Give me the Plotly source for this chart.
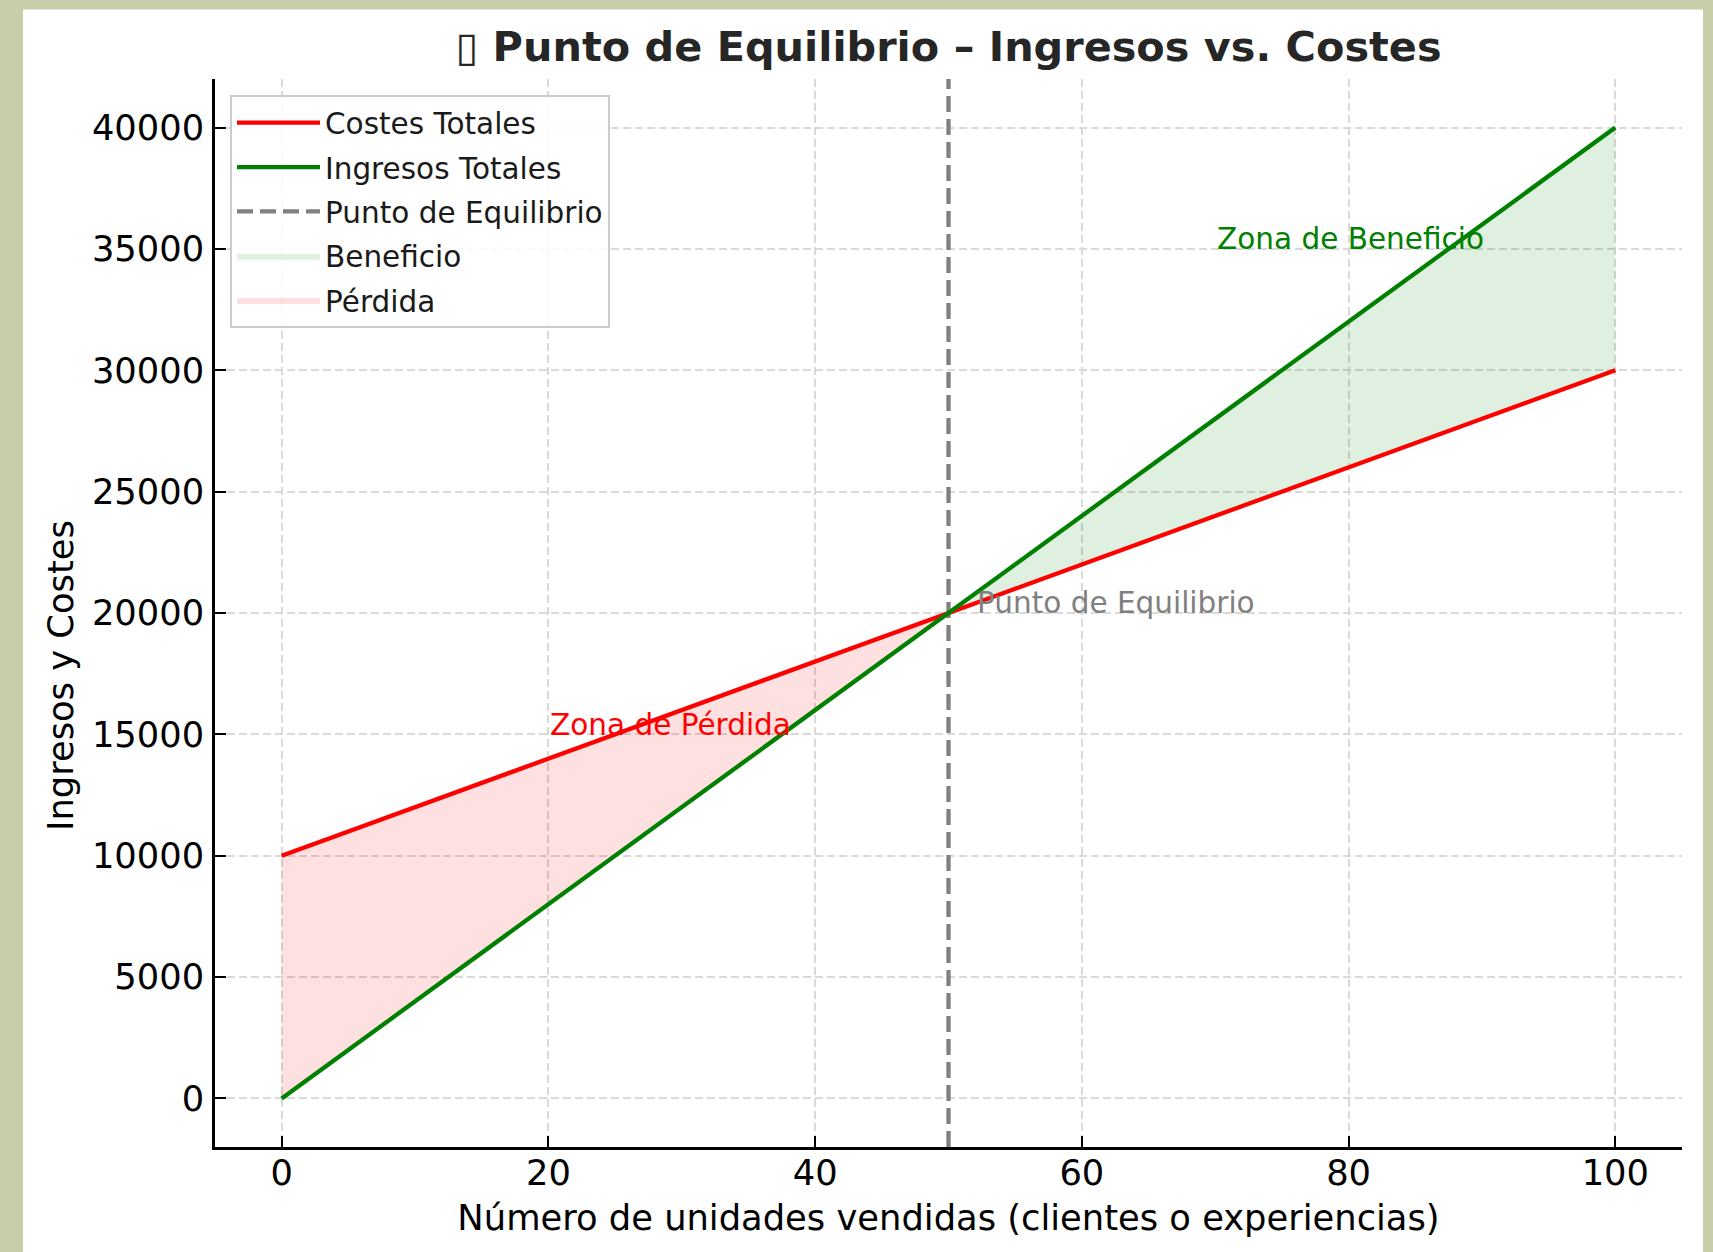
import plotly.graph_objects as go

# ---- data ----
units = [0, 50, 100]
costes_totales = [10000, 20000, 30000]
ingresos_totales = [0, 20000, 40000]
break_even_units = 50
x_ticks = [0, 20, 40, 60, 80, 100]
y_ticks = [0, 5000, 10000, 15000, 20000, 25000, 30000, 35000, 40000]
x_range = [-5, 105]
y_range = [-2000, 42000]

FONT = "DejaVu Sans"
W, H = 1713, 1252
L, R, T, B = 215, 31, 79, 105
BASE = 35.3
SMALL = 29.5

fig = go.Figure()

# loss zone (units <= break-even)
lx = [u for u in units if u <= break_even_units]
lc = [c for u, c in zip(units, costes_totales) if u <= break_even_units]
li = [v for u, v in zip(units, ingresos_totales) if u <= break_even_units]
fig.add_trace(go.Scatter(
    x=lx + lx[::-1], y=lc + li[::-1], fill="toself",
    fillcolor="rgba(255,0,0,0.12)", line=dict(width=0), mode="lines",
    name="Pérdida", legendrank=5, legendgroup="g5", hoverinfo="skip"))

# profit zone (units >= break-even)
px_ = [u for u in units if u >= break_even_units]
pc = [c for u, c in zip(units, costes_totales) if u >= break_even_units]
pi = [v for u, v in zip(units, ingresos_totales) if u >= break_even_units]
fig.add_trace(go.Scatter(
    x=px_ + px_[::-1], y=pi + pc[::-1], fill="toself",
    fillcolor="rgba(0,128,0,0.12)", line=dict(width=0), mode="lines",
    name="Beneficio", legendrank=4, legendgroup="g4", hoverinfo="skip"))

fig.add_trace(go.Scatter(
    x=[break_even_units, break_even_units], y=y_range, mode="lines",
    line=dict(color="#808080", width=4.3, dash="16px,7px"),
    name="Punto de Equilibrio", legendrank=3, legendgroup="g3"))

fig.add_trace(go.Scatter(
    x=units, y=costes_totales, mode="lines",
    line=dict(color="#ff0000", width=4.3),
    name="Costes Totales", legendrank=1, legendgroup="g1"))

fig.add_trace(go.Scatter(
    x=units, y=ingresos_totales, mode="lines",
    line=dict(color="#008000", width=4.3),
    name="Ingresos Totales", legendrank=2, legendgroup="g2"))

fig.add_annotation(x=break_even_units + 2, y=20400, text="Punto de Equilibrio",
                   showarrow=False, xanchor="left", yanchor="middle",
                   font=dict(family=FONT, size=SMALL, color="#808080"))
fig.add_annotation(x=70, y=35400, text="Zona de Beneficio",
                   showarrow=False, xanchor="left", yanchor="middle",
                   font=dict(family=FONT, size=SMALL, color="#008000"))
fig.add_annotation(x=20, y=15400, text="Zona de Pérdida",
                   showarrow=False, xanchor="left", yanchor="middle",
                   font=dict(family=FONT, size=SMALL, color="#ff0000"))

pw = W - L - R
ph = H - T - B

# y-axis title (placed as in the reference, slightly below the axis centre)
fig.add_annotation(xref="paper", yref="paper", x=(60 - L) / pw, y=1 - (676 - T) / ph,
                   text="Ingresos y Costes", textangle=-90, showarrow=False,
                   xanchor="center", yanchor="middle",
                   font=dict(family=FONT, size=BASE, color="black"))

fig.add_shape(type="rect", xref="paper", yref="paper", layer="below",
              x0=(23 - L) / pw, x1=(1703 - L) / pw,
              y0=-0.2, y1=1 + (T - 9.5) / ph,
              fillcolor="white", line=dict(width=0))

axis_common = dict(
    showline=True, linecolor="black", linewidth=2.5, mirror=False,
    ticks="inside", ticklen=11, tickwidth=2.3, tickcolor="black",
    showgrid=True, gridcolor="#d9d9d9", gridwidth=2, griddash="8px,4px",
    zeroline=False, tickfont=dict(family=FONT, size=BASE, color="black"),
)

fig.update_xaxes(range=x_range, tickvals=x_ticks, ticktext=[str(v) for v in x_ticks],
                 ticklabelstandoff=-7,
                 title=dict(text="Número de unidades vendidas (clientes o experiencias)",
                            font=dict(family=FONT, size=BASE, color="black"), standoff=14),
                 **axis_common)
fig.update_yaxes(range=y_range, tickvals=y_ticks, ticktext=[str(v) for v in y_ticks],
                 ticklabelstandoff=1,
                 **axis_common)

fig.update_layout(
    width=W, height=H,
    margin=dict(l=L, r=R, t=T, b=B, autoexpand=False),
    paper_bgcolor="#c8cea9", plot_bgcolor="white",
    title=dict(text="<b>▯ Punto de Equilibrio – Ingresos vs. Costes</b>",
               x=0.5, xref="paper", xanchor="center",
               y=1 - 47 / H, yanchor="middle",
               font=dict(family=FONT, size=41.4, color="#262626")),
    legend=dict(x=(230 - L) / pw, y=1 - (95 - T) / ph, xanchor="left", yanchor="top",
                bgcolor="rgba(255,255,255,0.85)", bordercolor="#cccccc", borderwidth=2,
                font=dict(family=FONT, size=SMALL, color="#1a1a1a"),
                itemwidth=83, tracegroupgap=3, traceorder="grouped"),
    showlegend=True,
)

fig.write_html("out.html", config={"displayModeBar": False},
               post_script="document.body.style.margin='0';document.body.style.overflow='hidden';")
